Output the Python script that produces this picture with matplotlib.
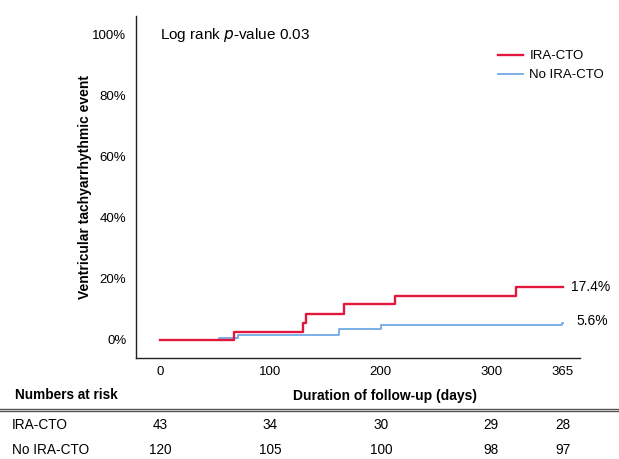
import matplotlib
matplotlib.use("Agg")
import matplotlib.pyplot as plt
from matplotlib.transforms import blended_transform_factory
from matplotlib.lines import Line2D

plt.rcParams['font.family'] = ['Liberation Sans', 'DejaVu Sans']

# cumulative incidence (%), step changes
ira_days = [0, 67, 129.5, 132, 167, 213, 322, 365]
ira_pct = [0, 2.5, 5.6, 8.4, 11.6, 14.4, 17.4, 17.4]

no_ira_days = [0, 53.5, 71, 162, 200, 364, 365]
no_ira_pct = [0, 0.8, 1.7, 3.5, 4.8, 5.6, 5.6]

# numbers at risk table
risk_times = [0, 100, 200, 300, 365]
risk_ira = [43, 34, 30, 29, 28]
risk_no_ira = [120, 105, 100, 98, 97]

red = '#E3173E'
blue = '#6FAAE6'

W, H = 619, 459
fig = plt.figure(figsize=(W / 100, H / 100), dpi=100)
ax = fig.add_axes([136 / W, (H - 358) / H, (580 - 136) / W, (358 - 16) / H])

ax.step(no_ira_days, no_ira_pct, where='post', color=blue, lw=1.3, zorder=2)
ax.step(ira_days, ira_pct, where='post', color=red, lw=1.7, zorder=3)

ax.set_xlim(-21.7, 380.4)
ax.set_ylim(-5.9, 105.9)
ax.set_xticks(risk_times)
ax.set_yticks([0, 20, 40, 60, 80, 100])
ax.set_yticklabels([f'{v}%' for v in [0, 20, 40, 60, 80, 100]])
ax.tick_params(length=0, labelsize=9.5)
ax.tick_params(axis='y', pad=7)
ax.tick_params(axis='x', pad=6)
for s in ['top', 'right']:
    ax.spines[s].set_visible(False)
for s in ['left', 'bottom']:
    ax.spines[s].set_linewidth(1.0)
    ax.spines[s].set_color('#222222')

ax.set_ylabel('Ventricular tachyarrhythmic event', fontsize=10, fontweight='bold', labelpad=0)
ax.set_xlabel('Duration of follow-up (days)', fontsize=10, fontweight='bold')
ax.xaxis.set_label_coords(0.56, -0.09)

ax.text(0.055, 0.945, 'Log rank $\\it{p}$-value 0.03', transform=ax.transAxes,
        fontsize=11, va='center', ha='left')

ax.text(372, ira_pct[-1], '17.4%', fontsize=10, va='center', ha='left')
ax.text(377, no_ira_pct[-1] + 0.6, '5.6%', fontsize=10, va='center', ha='left')

handles = [Line2D([], [], color=red, lw=1.7), Line2D([], [], color=blue, lw=1.3)]
ax.legend(handles, ['IRA-CTO', 'No IRA-CTO'], loc='upper left', bbox_to_anchor=(0.816, 0.9),
          frameon=False, fontsize=9.5, handlelength=1.9, handletextpad=0.45, labelspacing=0.5,
          borderpad=0, borderaxespad=0)

# numbers at risk below the axes
tr = blended_transform_factory(ax.transData, fig.transFigure)
fig.text(15 / W, 1 - 395 / H, 'Numbers at risk', fontsize=9.8, fontweight='bold', va='center', ha='left')
fig.add_artist(Line2D([0, 1], [1 - 409 / H, 1 - 409 / H], color='#555555', lw=1.0, transform=fig.transFigure))
fig.add_artist(Line2D([0, 1], [1 - 411 / H, 1 - 411 / H], color='#555555', lw=1.0, transform=fig.transFigure))
fig.text(12 / W, 1 - 425 / H, 'IRA-CTO', fontsize=9.8, va='center', ha='left')
fig.text(12 / W, 1 - 450 / H, 'No IRA-CTO', fontsize=9.8, va='center', ha='left')
for t, a, b in zip(risk_times, risk_ira, risk_no_ira):
    ax.text(t, 1 - 425 / H, str(a), transform=tr, fontsize=9.8, va='center', ha='center')
    ax.text(t, 1 - 450 / H, str(b), transform=tr, fontsize=9.8, va='center', ha='center')

fig.savefig('out.png', dpi=100, facecolor='white')
